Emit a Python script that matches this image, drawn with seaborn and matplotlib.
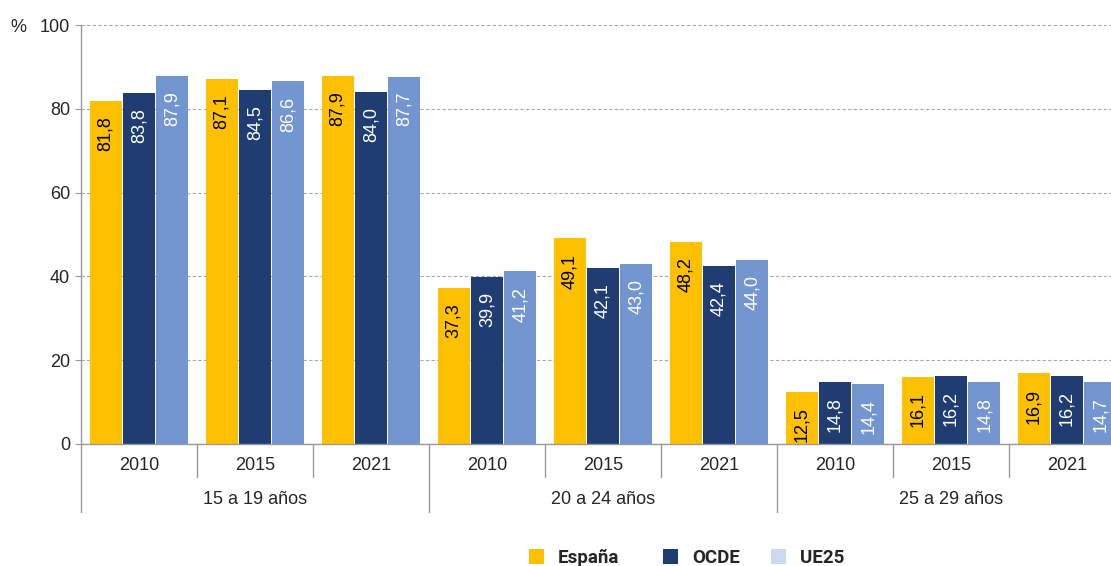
import matplotlib
matplotlib.use("Agg")
import matplotlib.pyplot as plt
import matplotlib.transforms as mtransforms
from matplotlib.patches import Patch
import seaborn as sns
import pandas as pd

groups = ["15 a 19 años", "20 a 24 años", "25 a 29 años"]
years = ["2010", "2015", "2021"]
series = ["España", "OCDE", "UE25"]
espana = [81.8, 87.1, 87.9, 37.3, 49.1, 48.2, 12.5, 16.1, 16.9]
ocde = [83.8, 84.5, 84.0, 39.9, 42.1, 42.4, 14.8, 16.2, 16.2]
ue25 = [87.9, 86.6, 87.7, 41.2, 43.0, 44.0, 14.4, 14.8, 14.7]
yticks = [0, 20, 40, 60, 80, 100]

bar_colors = {"España": "#FFC000", "OCDE": "#1F3D73", "UE25": "#7396D0"}
legend_colors = {"España": "#FFC000", "OCDE": "#1F3D73", "UE25": "#C9DAF1"}
label_colors = {"España": "black", "OCDE": "white", "UE25": "white"}

cats = [f"{g}|{y}" for g in groups for y in years]
rows = []
for s, vals in zip(series, [espana, ocde, ue25]):
    for c, v in zip(cats, vals):
        rows.append({"cat": c, "serie": s, "valor": v})
df = pd.DataFrame(rows)

sns.set_style("white")
plt.rcParams["font.family"] = ["Liberation Sans", "DejaVu Sans"]

fig = plt.figure(figsize=(11.11, 5.66), dpi=100)
ax = fig.add_axes([81 / 1111, 122 / 566, 1044 / 1111, 419 / 566])

sns.barplot(data=df, x="cat", y="valor", hue="serie", order=cats,
            hue_order=series, palette=bar_colors, width=0.86, gap=0.03,
            saturation=1, ax=ax, legend=False, errorbar=None, linewidth=0)

# value labels
for container, s in zip(ax.containers, series):
    for bar in container:
        h = bar.get_height()
        ax.annotate(f"{h:.1f}".replace(".", ","),
                    xy=(bar.get_x() + bar.get_width() / 2, h),
                    xytext=(0, -11), textcoords="offset points",
                    rotation=90, ha="center", va="top",
                    fontsize=13, color=label_colors[s])

ax.set_ylim(0, 100)
ax.set_xlim(-0.5, 8.5)
ax.set_yticks(yticks)
ax.set_yticklabels([str(t) for t in yticks], fontsize=13)
ax.tick_params(axis="y", length=4, color="#999999", pad=4, left=True)
ax.tick_params(axis="x", length=0, labelbottom=False)
ax.set_xlabel("")
ax.set_ylabel("")
ax.yaxis.grid(True, linestyle=(0, (3, 2)), color="#AAAAAA", linewidth=0.8)
ax.set_axisbelow(True)
for sp in ["top", "right"]:
    ax.spines[sp].set_visible(False)
for sp in ["left", "bottom"]:
    ax.spines[sp].set_color("#999999")
    ax.spines[sp].set_linewidth(1.0)

trans = mtransforms.blended_transform_factory(ax.transData, ax.transAxes)
axh = 419
y_year = -(466 - 444) / axh
y_group = -(499 - 444) / axh
y_sep_short = -(477 - 444) / axh
y_sep_long = -(512 - 444) / axh

for i, c in enumerate(cats):
    g, y = c.split("|")
    ax.text(i, y_year, y, transform=trans, ha="center", va="center", fontsize=13)
for gi, g in enumerate(groups):
    ax.text(gi * 3 + 1, y_group, g, transform=trans, ha="center", va="center", fontsize=13)
for i in range(9):
    x = i - 0.5
    bottom = y_sep_long if i % 3 == 0 else y_sep_short
    ax.plot([x, x], [0, bottom], transform=trans, color="#999999",
            linewidth=1.0, clip_on=False)

fig.text(18 / 1111, 1 - 28 / 566, "%", ha="center", va="center", fontsize=13)

legend_x = [529, 663, 771]
for s, lx in zip(series, legend_x):
    leg = fig.legend([Patch(facecolor=legend_colors[s], edgecolor="none")], [s],
                     loc="upper left", bbox_to_anchor=(lx / 1111, 1 - 549 / 566),
                     frameon=False,
                     prop={"family": "Roboto", "weight": "bold", "size": 13.5},
                     handlelength=0.8, handleheight=0.8, handletextpad=0.75,
                     borderpad=0, borderaxespad=0)

fig.savefig("out.png", dpi=100)
